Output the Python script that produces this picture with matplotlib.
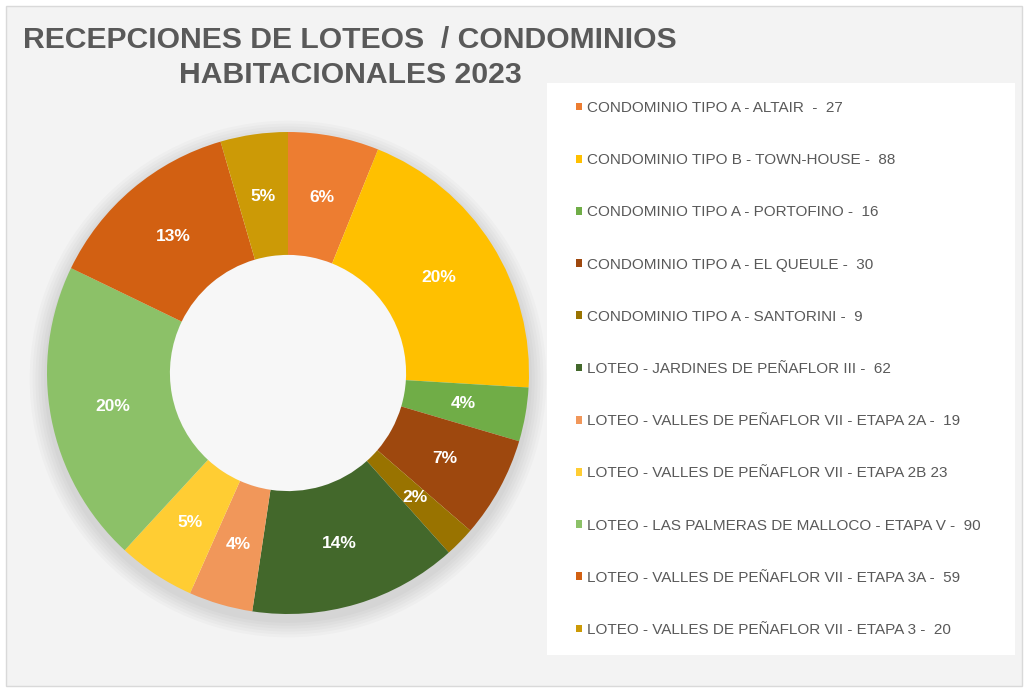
import matplotlib
matplotlib.use("Agg")
import matplotlib.pyplot as plt
import matplotlib.patches as patches

plt.rcParams['font.family'] = ['Liberation Sans', 'DejaVu Sans']

# datos
labels = [
    "CONDOMINIO TIPO A - ALTAIR  -  27",
    "CONDOMINIO TIPO B - TOWN-HOUSE -  88",
    "CONDOMINIO TIPO A - PORTOFINO -  16",
    "CONDOMINIO TIPO A - EL QUEULE -  30",
    "CONDOMINIO TIPO A - SANTORINI -  9",
    "LOTEO - JARDINES DE PEÑAFLOR III -  62",
    "LOTEO - VALLES DE PEÑAFLOR VII - ETAPA 2A -  19",
    "LOTEO - VALLES DE PEÑAFLOR VII - ETAPA 2B 23",
    "LOTEO - LAS PALMERAS DE MALLOCO - ETAPA V -  90",
    "LOTEO - VALLES DE PEÑAFLOR VII - ETAPA 3A -  59",
    "LOTEO - VALLES DE PEÑAFLOR VII - ETAPA 3 -  20",
]
values = [27, 88, 16, 30, 9, 62, 19, 23, 90, 59, 20]
colors = ['#ED7D31', '#FFC000', '#70AD47', '#9E480E', '#997300', '#43682B',
          '#F1975A', '#FFCD33', '#8CC168', '#D26012', '#CC9A06']

W, H = 1030, 692
fig = plt.figure(figsize=(W / 100, H / 100), dpi=100)
fig.patch.set_facecolor('white')

# fondo del grafico
fig.patches.append(patches.Rectangle((6 / W, 1 - 686 / H), 1016 / W, 680 / H,
                                     transform=fig.transFigure, facecolor='#f3f3f3',
                                     edgecolor='#d9d9d9', linewidth=1, zorder=-10))
# caja de leyenda
fig.patches.append(patches.Rectangle((547 / W, 1 - 655 / H), 468 / W, 572 / H,
                                     transform=fig.transFigure, facecolor='white',
                                     edgecolor='none', zorder=-9))

cx, cy, r = 288, 373, 241
ax = fig.add_axes([(cx - r) / W, (H - cy - r) / H, 2 * r / W, 2 * r / H])
ax.set_facecolor('none')

# sombra suave (solo por fuera del anillo)
for k in range(6):
    ax.add_patch(patches.Wedge((0, -0.025), 1.0 + 0.012 * (k + 1), 0, 360,
                               width=0.012 * (k + 1) + 0.05, facecolor='black', alpha=0.018,
                               edgecolor='none', clip_on=False))
# hueco
ax.add_patch(patches.Circle((0, 0), 0.49, facecolor='#f7f7f7', edgecolor='none'))

wedges, texts, autotexts = ax.pie(values, colors=colors, startangle=90, counterclock=False,
                                  radius=1, autopct='%1.0f%%', pctdistance=0.74,
                                  wedgeprops=dict(width=0.51, edgecolor='none'),
                                  textprops=dict(color='white', fontsize=12.5, fontweight='bold'))
ax.set_xlim(-1, 1)
ax.set_ylim(-1, 1)
ax.set_aspect('equal')
ax.axis('off')

fig.text(350 / W, 1 - 40 / H, "RECEPCIONES DE LOTEOS  / CONDOMINIOS", ha='center', va='center',
         fontsize=21.7, fontweight='bold', color='#595959')
fig.text(350 / W, 1 - 75 / H, "HABITACIONALES 2023", ha='center', va='center',
         fontsize=21.7, fontweight='bold', color='#595959')

leg = fig.legend(wedges, labels, loc='upper left', bbox_to_anchor=(576 / W, 1 - 101 / H),
                 frameon=False, fontsize=11, labelcolor='#595959', labelspacing=2.50,
                 handlelength=0.4, handleheight=0.4, handletextpad=0.3, borderpad=0,
                 borderaxespad=0)

fig.savefig("out.png", dpi=100)
